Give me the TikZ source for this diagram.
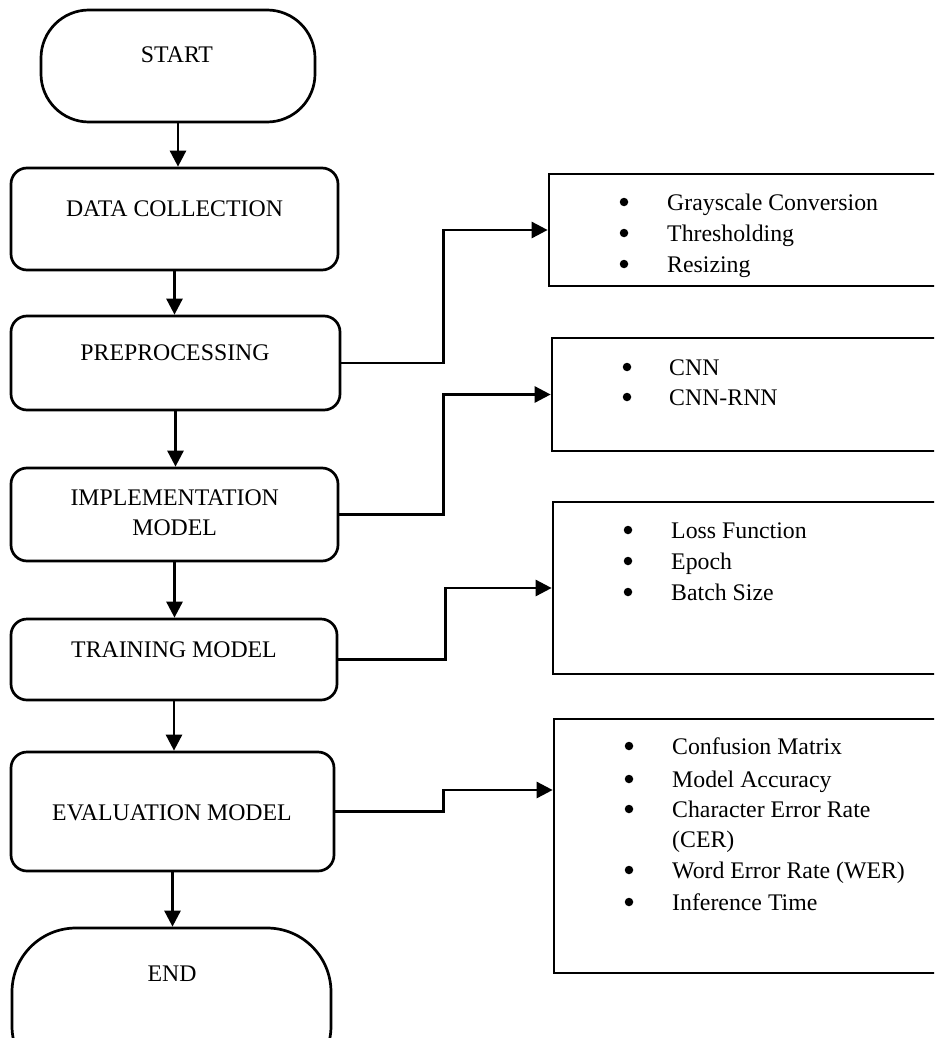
\documentclass[tikz,border=0pt]{standalone}
\usepackage{fontspec}
\setmainfont{Liberation Serif}
\usetikzlibrary{arrows.meta,fit}
\begin{document}
\begin{tikzpicture}[x=1pt,y=-1pt,
  every node/.style={font=\fontsize{23.8}{30}\selectfont},
  flowbox/.style={draw, line width=2.7pt, rounded corners=16pt, inner sep=0pt},
  termbox/.style={draw, line width=2.7pt, rounded corners=#1, inner sep=0pt},
  listbox/.style={draw, line width=2.7pt, inner sep=0pt},
  lbl/.style={anchor=base, inner sep=0pt},
  cbl/.style={anchor=center, inner sep=0pt, align=center},
  bul/.style={circle, fill, inner sep=0pt, minimum size=8.5pt},
  itm/.style={anchor=base west, inner sep=0pt},
  arr/.style={line width=2.7pt, -{Triangle[length=16pt,width=16pt]}},
  link/.style={line width=2.7pt, -{Triangle[length=16pt,width=16pt]}}
]
\useasboundingbox (0,0) rectangle (934,1038);
\clip (0,0) rectangle (934,1038);

% left column
\node[termbox=48pt, fit={(41,10) (315,122)}] (start) {};
\node[flowbox, fit={(11,168) (338,270)}] (dc) {};
\node[flowbox, fit={(11,316) (340,410)}] (pre) {};
\node[flowbox, fit={(11,468) (338,561)}] (impl) {};
\node[flowbox, fit={(11,619) (337,700)}] (train) {};
\node[flowbox, fit={(11,752) (334,871)}] (ev) {};
\node[termbox=64pt, fit={(12,928) (331,1090)}] (end) {};

\node[lbl] (tstart) at (177,63) {START};
\node[lbl] (tdc) at (174.5,216) {DATA COLLECTION};
\node[lbl] (tpre) at (175,360) {PREPROCESSING};
\node[cbl] (timpl) at (174.7,513) {IMPLEMENTATION\\MODEL};
\node[lbl] (ttrain) at (174,657) {TRAINING MODEL};
\node[lbl] (tev) at (172,820) {EVALUATION MODEL};
\node[lbl] (tend) at (172,981) {END};

\draw[arr] (start.south) -- (start.south |- dc.north);
\draw[arr] (dc.south) -- (dc.south |- pre.north);
\draw[arr] (pre.south) -- (pre.south |- impl.north);
\draw[arr] (impl.south) -- (impl.south |- train.north);
\draw[arr] (train.south) -- (train.south |- ev.north);
\draw[arr] (ev.south) -- (ev.south |- end.north);

% right column
\node[listbox, fit={(549,174) (980,286)}] (b1) {};
\node[listbox, fit={(552,338) (980,451)}] (b2) {};
\node[listbox, fit={(553,502) (980,674)}] (b3) {};
\node[listbox, fit={(554,719) (980,973)}] (b4) {};

\foreach \y/\t [count=\i] in {202/Grayscale Conversion, 233/Thresholding, 264/Resizing}{
  \node[bul] (b1d\i) at (624,\y) {};
  \node[itm] (b1t\i) at (667,\y+8) {\t};
}
\foreach \y/\t [count=\i] in {367/CNN, 397/CNN-RNN}{
  \node[bul] (b2d\i) at (627,\y) {};
  \node[itm] (b2t\i) at (669,\y+8) {\t};
}
\foreach \y/\t [count=\i] in {530/Loss Function, 561/Epoch, 592/Batch Size}{
  \node[bul] (b3d\i) at (628,\y) {};
  \node[itm] (b3t\i) at (671,\y+8) {\t};
}
\foreach \y/\t [count=\i] in {746/Confusion Matrix, 779/Model Accuracy, 809/Character Error Rate, 870/Word Error Rate (WER), 902/Inference Time}{
  \node[bul] (b4d\i) at (629,\y) {};
  \node[itm] (b4t\i) at (672,\y+8) {\t};
}
\node[itm] (b4cer) at (672,847) {(CER)};

% connectors
\draw[link] (pre.east) -- ++(102,0) |- (b1.west);
\draw[link] (impl.east) -- ++(104,0) |- (b2.west);
\draw[link] (train.east) -- ++(107,0) |- (b3.west);
\draw[link] (ev.east) -- ++(108,0) |- ([yshift=56pt]b4.west);
\end{tikzpicture}
\end{document}
